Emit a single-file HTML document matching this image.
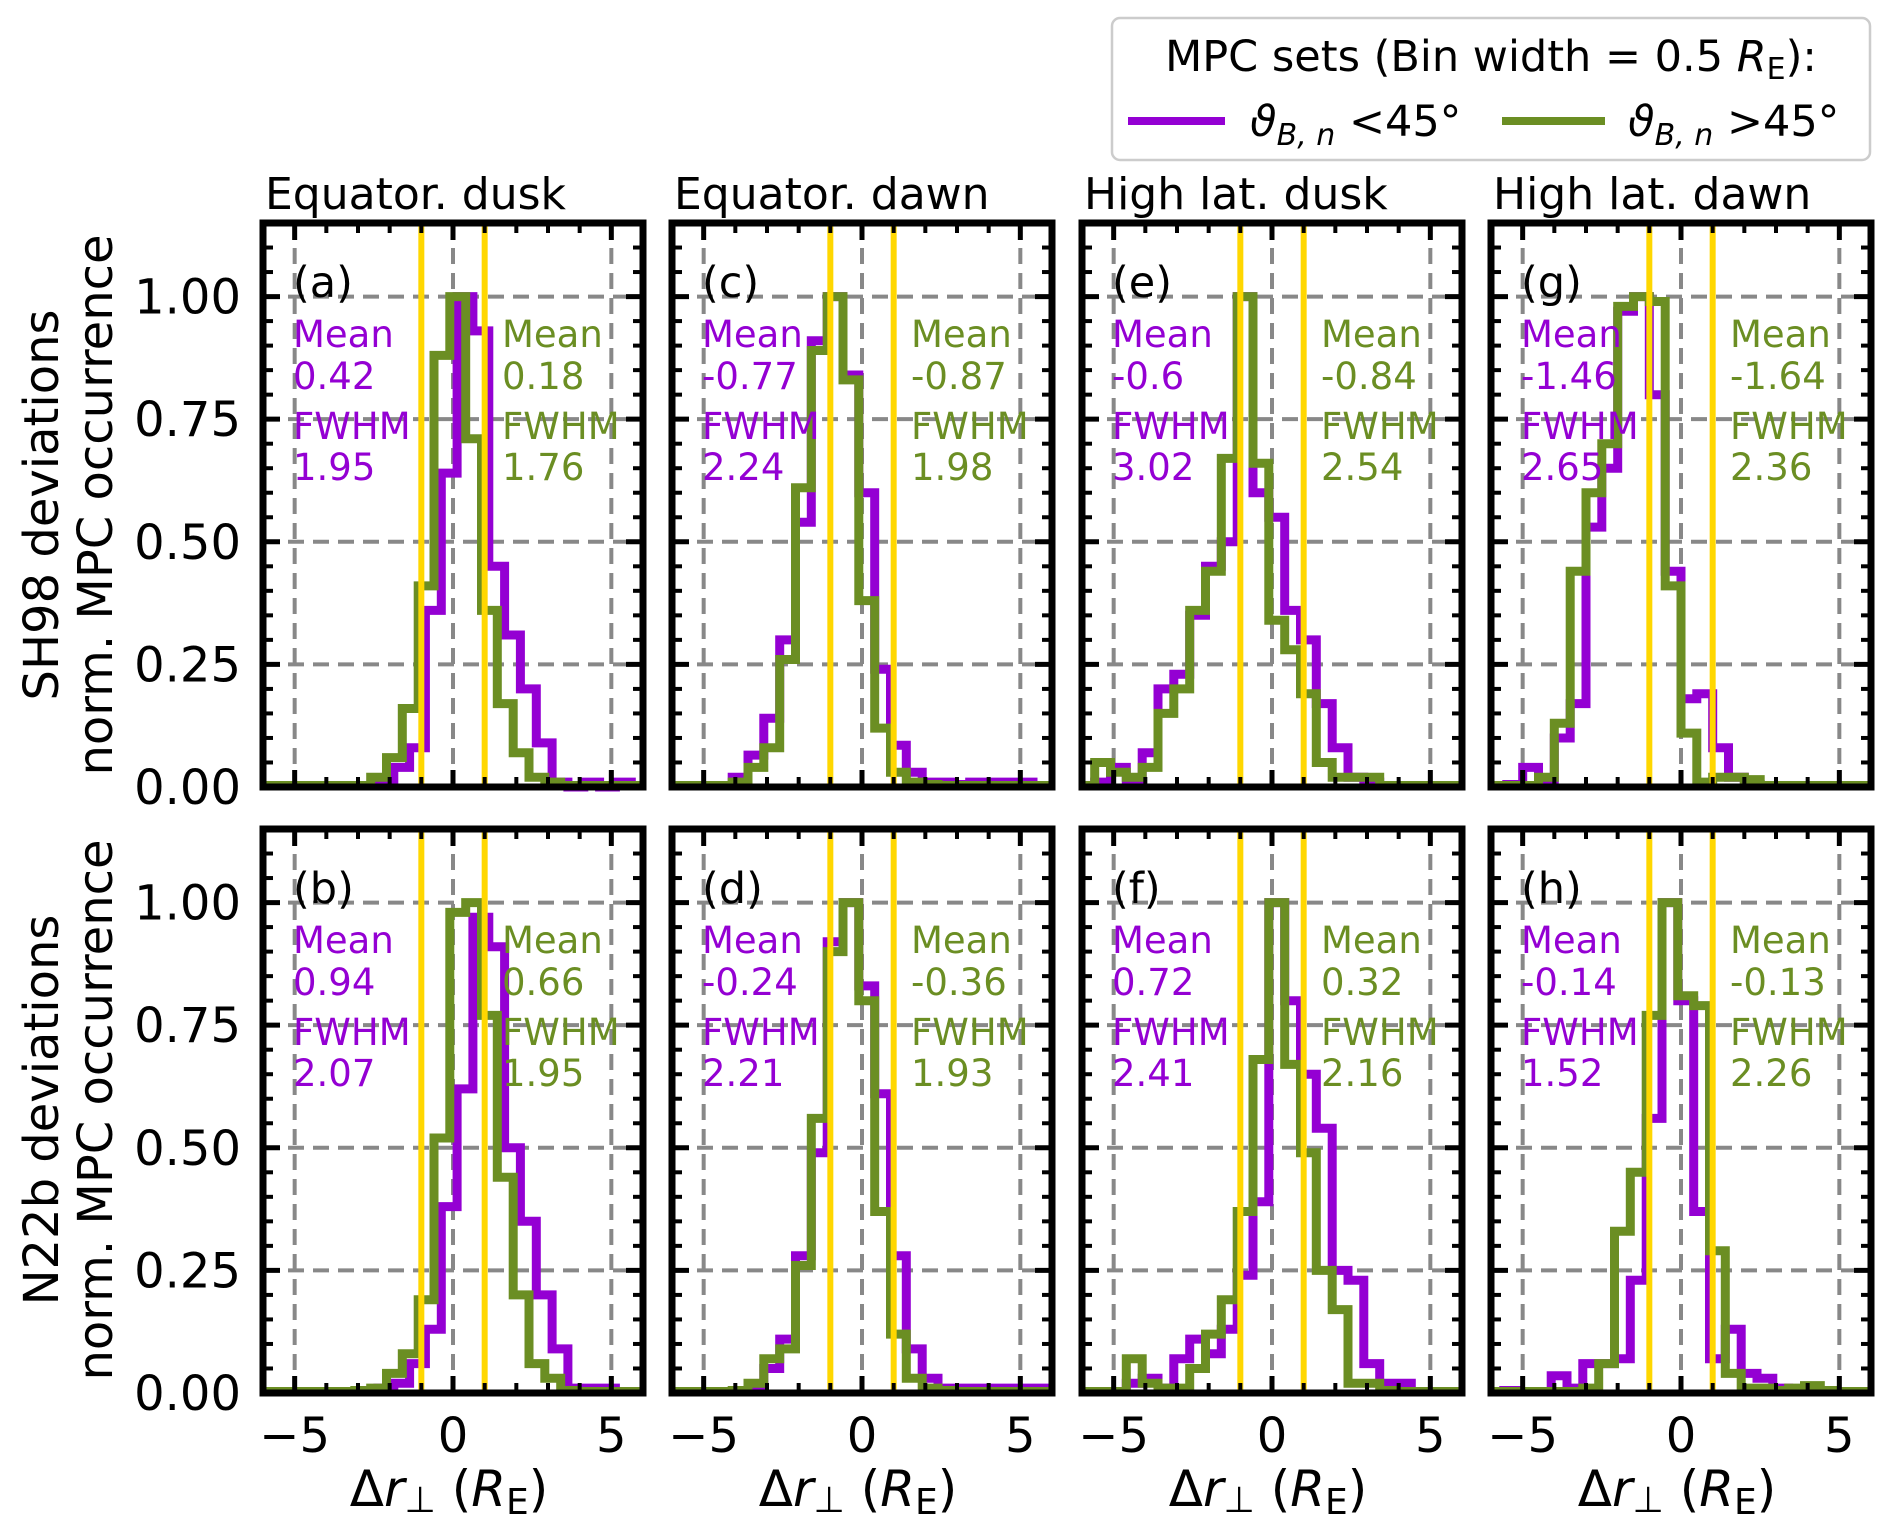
<!DOCTYPE html>
<html><head><meta charset="utf-8"><style>
html,body{margin:0;padding:0;background:#fff;}
svg{display:block;font-family:"DejaVu Sans","Liberation Sans",sans-serif;}
</style></head><body>
<svg id="s" width="1892" height="1532" viewBox="0 0 1892 1532" xmlns="http://www.w3.org/2000/svg">
<rect width="1892" height="1532" fill="#fff"/>
<g id="g"></g>
<!-- legend -->
<rect x="1112" y="18" width="758" height="142" rx="8" fill="#fff" stroke="#cccccc" stroke-width="2.5"/>
<text x="1491" y="71" font-size="43" text-anchor="middle">MPC sets (Bin width = 0.5 <tspan font-style="italic">R</tspan><tspan font-size="30" dy="8">E</tspan><tspan dy="-8">):</tspan></text>
<line x1="1128" y1="121" x2="1225" y2="121" stroke="#9400D3" stroke-width="8"/>
<text x="1250" y="136" font-size="43"><tspan font-style="italic">ϑ</tspan><tspan font-size="30" dy="9" font-style="italic">B, n</tspan><tspan dy="-9"> &lt;45°</tspan></text>
<line x1="1502" y1="121" x2="1605" y2="121" stroke="#6B8E23" stroke-width="8"/>
<text x="1628" y="136" font-size="43"><tspan font-style="italic">ϑ</tspan><tspan font-size="30" dy="9" font-style="italic">B, n</tspan><tspan dy="-9"> &gt;45°</tspan></text>
<!-- y labels -->
<text transform="translate(58,505) rotate(-90)" font-size="48" text-anchor="middle">SH98 deviations</text>
<text transform="translate(112,505) rotate(-90)" font-size="48" text-anchor="middle">norm. MPC occurrence</text>
<text transform="translate(58,1110) rotate(-90)" font-size="48" text-anchor="middle">N22b deviations</text>
<text transform="translate(112,1110) rotate(-90)" font-size="48" text-anchor="middle">norm. MPC occurrence</text>
</svg>
<script>
(function(){
var NS="http://www.w3.org/2000/svg";
var g=document.getElementById("g");
var L=[263,672,1082,1491],W=380,T=[223,829],H=564;
var P="#9400D3",G="#6B8E23";
var titles=["Equator. dusk","Equator. dawn","High lat. dusk","High lat. dawn"];
var panels=[
 [0,0,"a","0.42","1.95","0.18","1.76",[-2.37,[0.01,0.04,0.08,0.36,0.64,1.0,0.93,0.45,0.31,0.2,0.09,0.01,0,0.01,0,0.01]],[-2.6,[0.02,0.06,0.16,0.41,0.88,1.0,0.71,0.36,0.17,0.07,0.02,0.01]]],
 [1,0,"b","0.94","2.07","0.66","1.95",[-2.37,[0.01,0.02,0.06,0.13,0.38,0.62,0.97,0.91,0.5,0.35,0.2,0.09,0.01,0.01,0.01]],[-3.1,[0.005,0.01,0.04,0.08,0.19,0.52,0.98,1.0,0.77,0.44,0.2,0.06,0.03,0.005]]],
 [0,1,"c","-0.77","2.24","-0.87","1.98",[-4.1,[0.02,0.065,0.14,0.3,0.54,0.91,1.0,0.84,0.6,0.24,0.085,0.03,0.01,0.01,0.005,0.01,0.01,0.01,0.01]],[-4.1,[0.01,0.04,0.08,0.26,0.61,0.89,1.0,0.83,0.38,0.12,0.03,0.01,0.005]]],
 [1,1,"d","-0.24","2.21","-0.36","1.93",[-3.6,[0.005,0.05,0.11,0.28,0.49,0.92,1.0,0.83,0.61,0.28,0.09,0.03,0.01,0.01,0.01,0.01,0.01,0.01,0.01]],[-4.1,[0.005,0.02,0.07,0.09,0.26,0.56,0.9,1.0,0.8,0.37,0.12,0.03,0.01,0.005]]],
 [0,2,"e","-0.6","3.02","-0.84","2.54",[-5.6,[0.01,0.04,0.01,0.07,0.2,0.23,0.35,0.45,0.5,1.0,0.6,0.55,0.36,0.3,0.17,0.08,0.02,0.01]],[-5.6,[0.05,0.03,0.02,0.04,0.15,0.2,0.36,0.44,0.67,1.0,0.66,0.34,0.28,0.19,0.05,0.02,0.02,0.02]]],
 [1,2,"f","0.72","2.41","0.32","2.16",[-4.6,[0.02,0.03,0.01,0.07,0.11,0.08,0.13,0.24,0.39,1.0,0.8,0.65,0.54,0.25,0.23,0.06,0.02,0.02]],[-4.6,[0.07,0.02,0.01,0.01,0.05,0.12,0.19,0.37,0.68,1.0,0.67,0.49,0.25,0.17,0.02,0.02,0.005]]],
 [0,3,"g","-1.46","2.65","-1.64","2.36",[-5.5,[0.005,0.04,0.01,0.1,0.17,0.53,0.65,0.97,1.0,0.8,0.44,0.18,0.19,0.08,0.02,0.005]],[-5.5,[0.003,0.003,0.02,0.13,0.44,0.6,0.7,0.98,1.0,0.99,0.41,0.11,0.01,0.02,0.02,0.015]]],
 [1,3,"h","-0.14","1.52","-0.13","2.26",[-5.6,[0.005,0.003,0.003,0.035,0.01,0.06,0.06,0.07,0.23,0.56,1.0,0.8,0.37,0.07,0.13,0.04,0.03,0.01]],[-3.1,[0.01,0.06,0.33,0.45,0.77,1.0,0.81,0.79,0.29,0.04,0.01,0.01,0.005,0.01,0.015,0.005]]]
];
function el(n,a,txt){var e=document.createElementNS(NS,n);for(var k in a)e.setAttribute(k,a[k]);if(txt!=null)e.textContent=txt;g.appendChild(e);return e;}
panels.forEach(function(p){
 var r=p[0],c=p[1],l=L[c],t=T[r];
 function X(x){return l+(x+6)/12*W;}
 function Y(h){return t+H-h*H/1.15;}
 [-5,0,5].forEach(function(x){el("line",{x1:X(x),x2:X(x),y1:t,y2:t+H,stroke:"#888",
   "stroke-width":4,"stroke-dasharray":"16,9"});});
 [0.25,0.5,0.75,1.0].forEach(function(h){el("line",{x1:l,x2:l+W,y1:Y(h),y2:Y(h),stroke:"#888",
   "stroke-width":4,"stroke-dasharray":"16,9"});});
 function hist(s,col){
   var st=s[0],hs=s[1],pts=[],pad=0.003;
   pts.push([X(-6),Y(pad)],[X(st),Y(pad)]);
   for(var i=0;i<hs.length;i++){var x0=st+i*0.5,x1=x0+0.5;pts.push([X(x0),Y(hs[i])],[X(x1),Y(hs[i])]);}
   var e=st+hs.length*0.5;pts.push([X(e),Y(pad)],[X(6),Y(pad)]);
   el("polyline",{points:pts.map(function(q){return q[0].toFixed(1)+","+q[1].toFixed(1);}).join(" "),
     fill:"none",stroke:col,"stroke-width":9,"stroke-linejoin":"miter"});
 }
 hist(p[7],P);hist(p[8],G);
 [-1,1].forEach(function(x){el("line",{x1:X(x),x2:X(x),y1:t,y2:t+H,stroke:"#FFD700","stroke-width":6});});
 for(var x=-5;x<=5;x++){var maj=(x%5===0),len=maj?17:10,w=maj?5:4;
   el("line",{x1:X(x),x2:X(x),y1:t+H,y2:t+H-len,stroke:"#000","stroke-width":w});
   el("line",{x1:X(x),x2:X(x),y1:t,y2:t+len,stroke:"#000","stroke-width":w});}
 for(var k=0;k<=22;k++){var h=k*0.05,maj=(k%5===0),len=maj?17:10,w=maj?5:4;
   el("line",{x1:l,x2:l+len,y1:Y(h),y2:Y(h),stroke:"#000","stroke-width":w});
   el("line",{x1:l+W,x2:l+W-len,y1:Y(h),y2:Y(h),stroke:"#000","stroke-width":w});}
 el("rect",{x:l,y:t,width:W,height:H,fill:"none",stroke:"#000","stroke-width":7});
 el("text",{x:l+30,y:t+74,"font-size":43},"("+p[2]+")");
 var ys=[124,166,216,257];
 [["Mean",p[3],"FWHM",p[4],l+30,P],["Mean",p[5],"FWHM",p[6],l+239,G]].forEach(function(a){
   for(var i=0;i<4;i++)el("text",{x:a[4],y:t+ys[i],"font-size":37,fill:a[5]},a[i]);});
 if(r===0)el("text",{x:l+2,y:209,"font-size":44},titles[c]);
 if(c===0){["0.00","0.25","0.50","0.75","1.00"].forEach(function(s,i){
   el("text",{x:241,y:Y(i*0.25)+17,"font-size":48,"text-anchor":"end"},s);});}
 if(r===1){[["\u22125",-5],["0",0],["5",5]].forEach(function(q){
   el("text",{x:X(q[1]),y:1452,"font-size":48,"text-anchor":"middle"},q[0]);});
   var tx=el("text",{x:l+W/2-4,y:1506,"font-size":50,"text-anchor":"middle"});
   tx.innerHTML='Δ<tspan font-style="italic">r</tspan><tspan font-size="36" dy="6">⊥</tspan><tspan dy="-6">  (</tspan><tspan font-style="italic">R</tspan><tspan font-size="36" dy="8">E</tspan><tspan dy="-8">)</tspan>';
   tx.setAttribute("xml:space","preserve");
 }
});
})();
</script>
</body></html>
